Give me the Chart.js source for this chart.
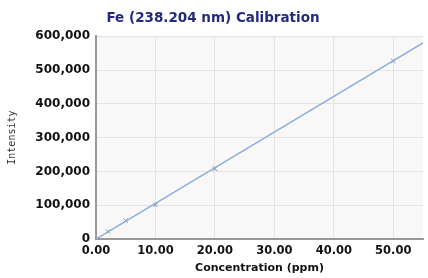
<!DOCTYPE html>
<html>
<head>
<meta charset="utf-8">
<script src="https://cdn.jsdelivr.net/npm/chart.js@4/dist/chart.umd.min.js"></script>
<style>
    html, body { margin: 0; padding: 0; background: #fff; }
    #wrap { width: 428px; height: 278px; }
</style>
</head>
<body>
<div id="wrap"><canvas id="calChart" width="428" height="278"></canvas></div>
<script>
    /* =========================================================
       DATOS
       ========================================================= */

    const stdConc = [2, 5, 10, 20, 50];
    const stdIntensity = [22000, 54000, 101000, 208000, 527000];

    const fitConc = [0, 55];
    const fitIntensity = [0, 580000];

    const xTicks = [0, 10, 20, 30, 40, 50];
    const yTicks = [0, 100000, 200000, 300000, 400000, 500000, 600000];

    /* =========================================================
       GRÁFICA
       ========================================================= */

    document.addEventListener("DOMContentLoaded", () => {

        const font = "'DejaVu Sans', Verdana, sans-serif";

        const plotBg = {
            id: "plotBg",
            beforeDraw(chart) {
                const { ctx, chartArea: a } = chart;
                ctx.save();
                ctx.fillStyle = "#f8f8f8";
                ctx.fillRect(a.left, a.top, a.right - a.left, a.bottom - a.top);
                ctx.strokeStyle = "#d8d8d8";
                ctx.lineWidth = 1;
                ctx.beginPath();
                ctx.moveTo(a.left, a.top + 0.5);
                ctx.lineTo(a.right, a.top + 0.5);
                ctx.stroke();
                ctx.restore();
            }
        };

        new Chart(document.getElementById("calChart"), {
            type: "scatter",
            data: {
                datasets: [
                    {
                        label: "Ajuste",
                        data: fitConc.map((x, i) => ({ x, y: fitIntensity[i] })),
                        showLine: true,
                        borderColor: "#8eaadc",
                        borderWidth: 1.5,
                        pointRadius: 0
                    },
                    {
                        label: "Estándares",
                        data: stdConc.map((x, i) => ({ x, y: stdIntensity[i] })),
                        pointStyle: "crossRot",
                        pointRadius: 3,
                        borderColor: "#7d8799",
                        borderWidth: 1
                    }
                ]
            },
            options: {
                responsive: false,
                animation: false,
                layout: { padding: { left: 0, right: 2, top: 0, bottom: 0 } },
                plugins: {
                    legend: { display: false },
                    tooltip: { enabled: false },
                    title: {
                        display: true,
                        text: "Fe (238.204 nm) Calibration",
                        color: "#262a7c",
                        font: { family: font, size: 13.5, weight: "bold" },
                        padding: { top: 10, bottom: 10 }
                    }
                },
                scales: {
                    x: {
                        type: "linear",
                        min: 0,
                        max: 55,
                        afterBuildTicks: s => { s.ticks = xTicks.map(v => ({ value: v })); },
                        afterFit: s => { s.height = 39; },
                        ticks: {
                            color: "#111",
                            font: { family: font, size: 11.5, weight: "bold" },
                            padding: 5,
                            maxRotation: 0,
                            callback: v => Number(v).toFixed(2)
                        },
                        grid: { color: "#e4e4e4", drawTicks: false },
                        border: { color: "#999", width: 2 },
                        title: {
                            display: true,
                            text: "Concentration (ppm)",
                            color: "#111",
                            font: { family: font, size: 11, weight: "bold" },
                            padding: { top: 0, bottom: 3 }
                        }
                    },
                    y: {
                        type: "linear",
                        min: 0,
                        max: 600000,
                        afterBuildTicks: s => { s.ticks = yTicks.map(v => ({ value: v })); },
                        afterFit: s => { s.width = 96; },
                        ticks: {
                            color: "#111",
                            font: { family: font, size: 12, weight: "bold" },
                            padding: 6,
                            callback: v => Number(v).toLocaleString("en-US")
                        },
                        grid: { color: "#e4e4e4", drawTicks: false },
                        border: { color: "#999", width: 2 },
                        title: {
                            display: true,
                            text: "Intensity",
                            color: "#333",
                            font: { family: "'DejaVu Sans Mono', monospace", size: 10 },
                            padding: { top: 6, bottom: 0 }
                        }
                    }
                }
            },
            plugins: [plotBg]
        });

    });
</script>
</body>
</html>
